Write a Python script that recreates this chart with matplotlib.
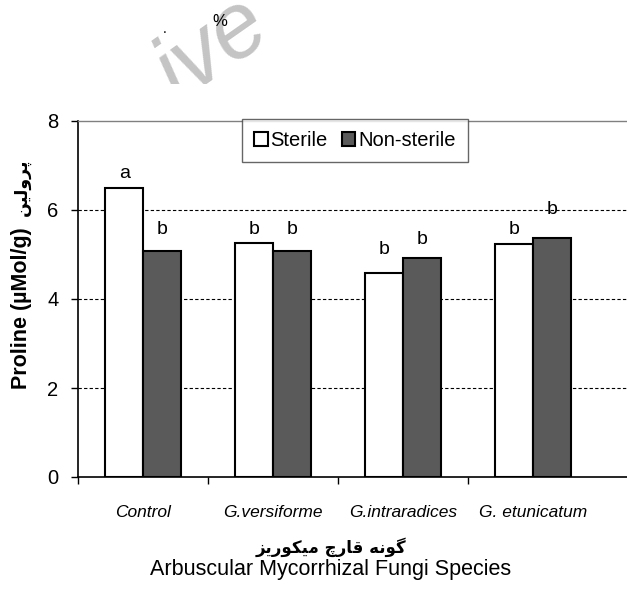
import numpy as np
import matplotlib
matplotlib.use('Agg')
import matplotlib.pyplot as plt
from matplotlib.patches import Rectangle

# %% Data
species = ['Control', 'G.versiforme', 'G.intraradices', 'G. etunicatum']
sterile = [6.50, 5.25, 4.59, 5.23]
non_sterile = [5.08, 5.08, 4.92, 5.36]
letters_sterile = ['a', 'b', 'b', 'b']
letters_non = ['b', 'b', 'b', 'b']
letters_sterile_y = [6.83, 5.57, 5.12, 5.57]
letters_non_y = [5.57, 5.57, 5.33, 6.00]
yticks = [0, 2, 4, 6, 8]

# Persian text in visual order (presentation forms, left to right)
fa_ylabel = '\uFEE6\uFBFF\uFEDF\uFEED\uFEAE\uFB58'            # پرولین
fa_xlabel = ('\uFEB0\uFBFE\uFEAD\uFEEE\uFB91\uFBFF\uFEE3' + ' ' +
             '\uFB7A\uFEAD\uFE8E\uFED7' + ' ' +
             '\uFEEA\uFEE7\uFEEE\uFB94')                      # گونه قارچ میکوریز

plt.rcParams['font.family'] = ['Liberation Sans', 'DejaVu Sans']

W, H = 627, 589
fig = plt.figure(figsize=(W/100, H/100), dpi=100)
ax = fig.add_axes([78/W, 1-477/H, 1-78/W, (477-121)/H])

x = np.arange(len(species))
bw = 0.29
ax.bar(x-bw/2, sterile, bw, color='white', edgecolor='black', linewidth=1.5, label='Sterile', zorder=3)
ax.bar(x+bw/2, non_sterile, bw, color='#5a5a5a', edgecolor='black', linewidth=1.5, label='Non-sterile', zorder=3)

for i in range(len(species)):
    ax.text(x[i]-bw/2, letters_sterile_y[i], letters_sterile[i], ha='center', va='center', fontsize=14, zorder=4)
    ax.text(x[i]+bw/2, letters_non_y[i], letters_non[i], ha='center', va='center', fontsize=14, zorder=4)

ax.set_xlim(-0.5, -0.5 + (W-78)/130)
ax.set_ylim(0, 8)
ax.set_yticks(yticks)
ax.tick_params(axis='y', direction='out', length=5, width=1, labelsize=14.5, pad=9)
for v in [2, 4, 6]:
    ax.axhline(v, color='black', linestyle=(0, (3, 2)), linewidth=0.8, zorder=1)

ax.set_xticks(x)
ax.set_xticklabels(species, fontstyle='italic', fontsize=12.5)
ax.tick_params(axis='x', which='major', length=0, pad=20)
ax.set_xticks(np.arange(len(species)) - 0.5, minor=True)
ax.tick_params(axis='x', which='minor', direction='out', length=5, width=1)

ax.spines['right'].set_visible(False)
ax.spines['top'].set_color('#808080')
ax.spines['top'].set_linewidth(1)
ax.spines['left'].set_linewidth(1.2)
ax.spines['bottom'].set_linewidth(1.2)

leg = ax.legend(loc='center', bbox_to_anchor=(355/W, 1-140.5/H), bbox_transform=fig.transFigure,
                ncol=2, fontsize=14.5, frameon=True, fancybox=False, handlelength=0.65, handleheight=0.65,
                handletextpad=0.15, columnspacing=0.7, borderpad=0.6, borderaxespad=0)
leg.get_frame().set_edgecolor('#404040')
leg.get_frame().set_linewidth(1)

# y label: English bold + Persian
fig.text(22/W, 1-308/H, 'Proline (\u00b5Mol/g)', rotation=90, ha='center', va='center',
         fontsize=15.5, fontweight='bold')
fig.text(22/W, 1-187/H, fa_ylabel, rotation=90, ha='center', va='center',
         fontsize=12.5, fontweight='bold', family=['DejaVu Sans'])

# x labels
fig.text(331/W, 1-547/H, fa_xlabel, ha='center', va='center', fontsize=12, fontweight='bold',
         family=['DejaVu Sans'])
fig.text(331/W, 1-569/H, 'Arbuscular Mycorrhizal Fungi Species', ha='center', va='center', fontsize=15.5)

# header marks and watermark
fig.text(165/W, 1-29/H, '.', ha='center', va='center', fontsize=10)
fig.text(220/W, 1-22/H, '%', ha='center', va='center', fontsize=12, family=['Liberation Sans Narrow', 'Liberation Sans'])
wm = fig.text(212/W, 1-50/H, 'ive', ha='center', va='center', fontsize=66, color='#c4c4c4',
              rotation=35, fontstyle='italic', zorder=0)
clip = Rectangle((0, 1-84/H), 1, 84/H, transform=fig.transFigure, visible=False)
fig.add_artist(clip)
wm.set_clip_path(clip)

fig.savefig('out.png', dpi=100)
